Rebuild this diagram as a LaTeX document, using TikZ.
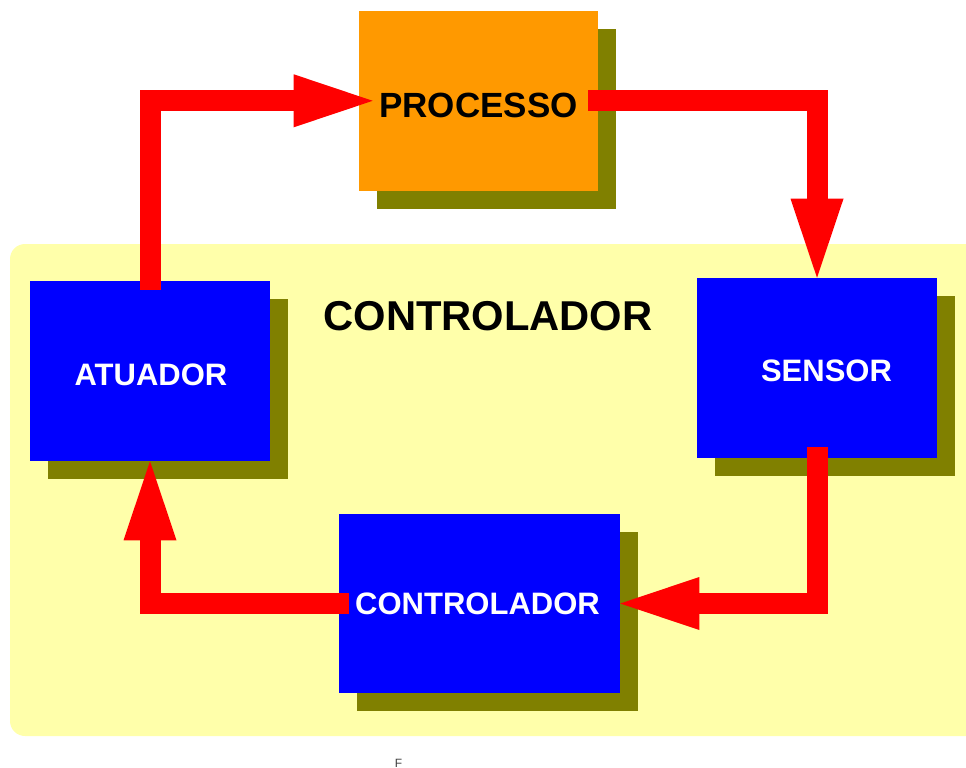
\documentclass[tikz,border=0pt]{standalone}
\usepackage{fontspec}
\setmainfont{Liberation Sans}
\usetikzlibrary{arrows.meta,calc,shadows}
\definecolor{bgyellow}{HTML}{FFFFAA}
\definecolor{shadowolive}{HTML}{808000}
\definecolor{procorange}{HTML}{FF9900}
\definecolor{boxblue}{HTML}{0000FF}
\definecolor{flowred}{HTML}{FF0000}
\begin{document}
\begin{tikzpicture}[x=0.75pt,y=-0.75pt,
  block/.style={draw=none, inner sep=0pt, minimum width=180pt, minimum height=135pt,
    drop shadow={shadow xshift=13.5pt, shadow yshift=-13.5pt, opacity=1, fill=shadowolive}},
  boxtext/.style={anchor=base, inner sep=0pt, text=white, font=\fontsize{23.25pt}{28pt}\selectfont\bfseries},
  flow/.style={draw=flowred, line width=15.75pt, line join=miter, line cap=butt,
    -{Triangle[length=59.25pt,width=39.75pt,line width=0pt]}}]
\useasboundingbox (0,0) rectangle (966,767);
\clip (0,0) rectangle (966,767);
% background panel
\fill[bgyellow, rounded corners=11.25pt] (10,244) rectangle (1000,736);
% blocks
\node[block, fill=procorange, minimum width=179.25pt] (proc) at (478.5,100.8) {};
\node[block, fill=boxblue] (sens) at (817,368) {};
\node[block, fill=boxblue] (atu) at (150,371) {};
\node[block, fill=boxblue, minimum width=210.75pt, minimum height=134.25pt] (ctrl) at (479.5,603.5) {};
% texts
\node[anchor=base, inner sep=0pt, font=\fontsize{26.25pt}{30pt}\selectfont\bfseries] (tproc) at (478.5,117.3) {PROCESSO};
\node[anchor=base, inner sep=0pt, font=\fontsize{31.3pt}{36pt}\selectfont\bfseries] (title) at (488,330.7) {CONTROLADOR};
\node[boxtext] (tatu) at (151,385.3) {ATUADOR};
\node[boxtext] (tsens) at (826.5,381.7) {SENSOR};
\node[boxtext] (tctrl) at (477.5,614) {CONTROLADOR};
% connectors
\draw[flow] ($(atu.north)+(0,9)$) |- ($(proc.west)+(14,0)$);
\draw[flow] ($(proc.east)+(-10,0)$) -| (sens.north);
\draw[flow] ($(sens.south)+(0,-11)$) |- (ctrl.east);
\draw[flow] ($(ctrl.west)+(10,0)$) -| (atu.south);
% small mark
\node[anchor=north, inner sep=0pt, text=black!75, font=\fontsize{9pt}{10pt}\selectfont] (fmark) at (398.5,759) {F};
\end{tikzpicture}
\end{document}
